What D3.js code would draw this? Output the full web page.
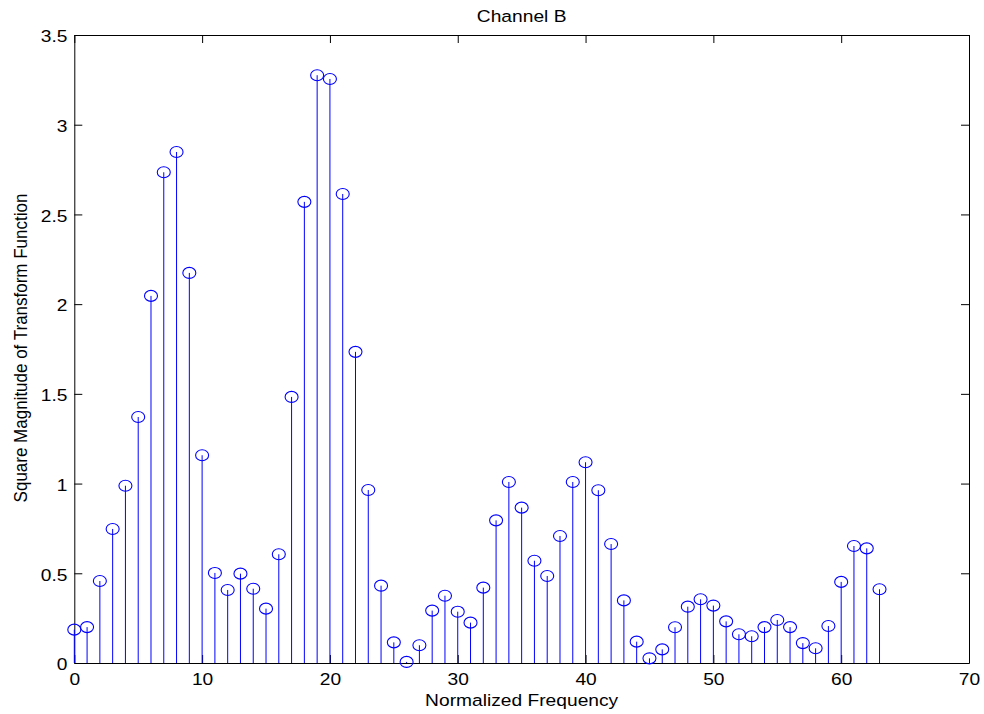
<!DOCTYPE html>
<html>
<head>
<meta charset="utf-8">
<script src="https://cdn.jsdelivr.net/npm/d3@7"></script>
<style>
  body { margin: 0; background: #fff; }
  text { font-family: "Liberation Sans", Arial, sans-serif; fill: #000; }
</style>
</head>
<body>
<div class="canvas"></div>
<script>
// normalized frequency bins 0..63
const freq = d3.range(0, 64);
// square magnitude
const magnitude = [
  0.186, 0.200, 0.457, 0.747, 0.988, 1.371, 2.046, 2.735, 2.848, 2.174,
  1.158, 0.502, 0.407, 0.498, 0.414, 0.303, 0.606, 1.483, 2.570, 3.276,
  3.255, 2.614, 1.734, 0.964, 0.431, 0.115, 0.006, 0.099, 0.292, 0.375,
  0.286, 0.225, 0.420, 0.795, 1.009, 0.866, 0.570, 0.485, 0.708, 1.009,
  1.119, 0.963, 0.663, 0.349, 0.119, 0.026, 0.076, 0.199, 0.314, 0.355,
  0.320, 0.232, 0.160, 0.149, 0.200, 0.240, 0.200, 0.111, 0.082, 0.206,
  0.452, 0.652, 0.639, 0.411
];
const xTicks = [0, 10, 20, 30, 40, 50, 60, 70];
const yTicks = [0, 0.5, 1, 1.5, 2, 2.5, 3, 3.5];

const width = 984;
const height = 714;
const margin = { top: 35, right: 15, bottom: 51, left: 74.3 };
const stretch = 1.13; // text in the picture is a little wider than tall
const fontSize = 17;

const svg = d3
  .select(".canvas")
  .append("svg")
  .attr("width", width)
  .attr("height", height);

const x = d3.scaleLinear().domain([0, 70]).range([margin.left, width - margin.right]);
const y = d3.scaleLinear().domain([0, 3.5]).range([height - margin.bottom, margin.top]);

// axes, ticks pointing inward on all four sides
const fmt = (d) => d3.format("")(d);
const bottom = svg
  .append("g")
  .attr("transform", `translate(0,${y(0)})`)
  .call(d3.axisBottom(x).tickValues(xTicks).tickFormat(fmt).tickSize(-8).tickSizeOuter(0).tickPadding(10));
const left = svg
  .append("g")
  .attr("transform", `translate(${x(0)},0)`)
  .call(d3.axisLeft(y).tickValues(yTicks).tickFormat(fmt).tickSize(-8).tickSizeOuter(0).tickPadding(6));
svg
  .append("g")
  .attr("transform", `translate(0,${y(3.5)})`)
  .call(d3.axisTop(x).tickValues(xTicks).tickFormat("").tickSize(-8).tickSizeOuter(0));
svg
  .append("g")
  .attr("transform", `translate(${x(70)},0)`)
  .call(d3.axisRight(y).tickValues(yTicks).tickFormat("").tickSize(-8).tickSizeOuter(0));

svg.selectAll(".domain").attr("stroke", "#000").attr("stroke-width", 1);
svg.selectAll(".tick line").attr("stroke", "#000").attr("stroke-width", 1);

bottom
  .selectAll("text")
  .attr("font-size", fontSize)
  .attr("font-family", "Liberation Sans, Arial, sans-serif")
  .attr("transform", `scale(${stretch},1)`);
left
  .selectAll("text")
  .attr("font-size", fontSize)
  .attr("font-family", "Liberation Sans, Arial, sans-serif")
  .attr("dy", "0.4em")
  .attr("transform", `scale(${stretch},1)`);

// stems
svg
  .append("g")
  .selectAll("line")
  .data(freq)
  .enter()
  .append("line")
  .attr("x1", (d) => x(d))
  .attr("x2", (d) => x(d))
  .attr("y1", y(0))
  .attr("y2", (d, i) => y(magnitude[i]))
  .attr("stroke", "#0000ff")
  .attr("stroke-width", 1);

// open circle markers
svg
  .append("g")
  .selectAll("ellipse")
  .data(freq)
  .enter()
  .append("ellipse")
  .attr("cx", (d) => x(d))
  .attr("cy", (d, i) => y(magnitude[i]))
  .attr("rx", 6.5)
  .attr("ry", 5.5)
  .attr("fill", "none")
  .attr("stroke", "#0000ff")
  .attr("stroke-width", 1.1);

// title and axis labels
svg
  .append("text")
  .attr("transform", `translate(${(x(0) + x(70)) / 2},22) scale(${stretch},1)`)
  .attr("text-anchor", "middle")
  .attr("font-size", fontSize)
  .text("Channel B");

svg
  .append("text")
  .attr("transform", `translate(${(x(0) + x(70)) / 2},706) scale(${stretch},1)`)
  .attr("text-anchor", "middle")
  .attr("font-size", fontSize)
  .text("Normalized Frequency");

svg
  .append("text")
  .attr("transform", `translate(27,348) scale(${stretch},1) rotate(-90)`)
  .attr("text-anchor", "middle")
  .attr("font-size", fontSize)
  .text("Square Magnitude of Transform Function");
</script>
</body>
</html>
